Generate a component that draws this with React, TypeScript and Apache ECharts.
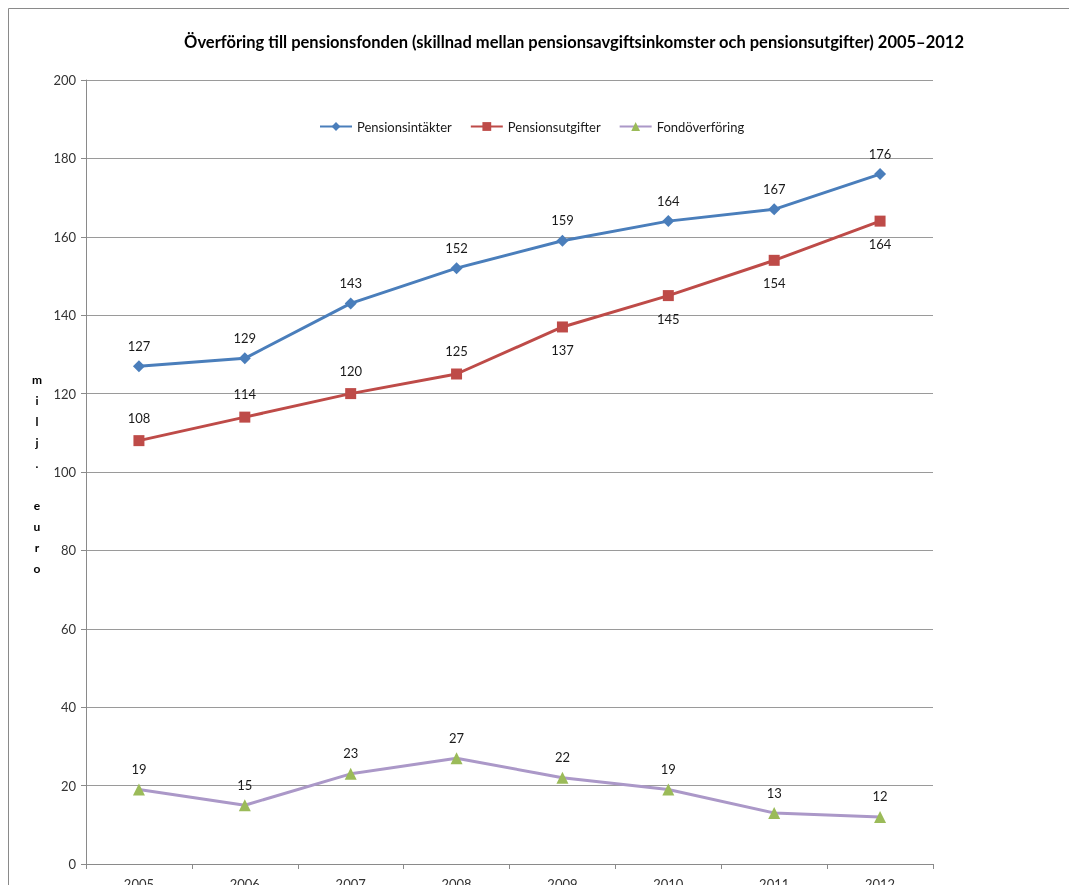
import React, { useEffect, useRef } from "react";
import * as echarts from "echarts";

const years = ["2005", "2006", "2007", "2008", "2009", "2010", "2011", "2012"];
const pensionsintakter = [127, 129, 143, 152, 159, 164, 167, 176];
const pensionsutgifter = [108, 114, 120, 125, 137, 145, 154, 164];
const fondoverforing = [19, 15, 23, 27, 22, 19, 13, 12];
const utgifterLabelBelowFrom = 4;

const titleText =
  "Överföring till pensionsfonden (skillnad mellan pensionsavgiftsinkomster och pensionsutgifter) 2005–2012";
const yName = "milj. euro";

const FONT = "Lato, 'Noto Sans', sans-serif";

export default function App() {
  const ref = useRef<HTMLDivElement>(null);
  useEffect(() => {
    if (!ref.current) return;
    const chart = echarts.init(ref.current, undefined, { renderer: "svg" });
    const labelStyle = { color: "#1a1a1a", fontSize: 13, fontFamily: FONT };
    chart.setOption({
      animation: false,
      textStyle: { fontFamily: FONT },
      legend: {
        top: 107,
        left: 306,
        itemWidth: 32,
        itemHeight: 11,
        itemGap: 18,
        textStyle: { fontSize: 13, color: "#1a1a1a", fontFamily: FONT },
        data: ["Pensionsintäkter", "Pensionsutgifter", "Fondöverföring"],
      },
      graphic: [
        { type: "line", shape: { x1: 0.5, y1: 0.5, x2: 0.5, y2: 900 }, style: { stroke: "#8a8a8a", lineWidth: 1 } },
        { type: "line", shape: { x1: 0.5, y1: 0.5, x2: 1100, y2: 0.5 }, style: { stroke: "#8a8a8a", lineWidth: 1 } },
        {
          type: "text",
          x: 566,
          y: 34,
          style: {
            text: titleText,
            fontSize: 16.5,
            fontWeight: "bold",
            fontFamily: FONT,
            fill: "#000",
            align: "center",
            verticalAlign: "middle",
          },
        },
        {
          type: "text",
          x: 29,
          y: 361,
          style: {
            text: yName.split("").join("\n"),
            fontSize: 12,
            fontWeight: "bold",
            fontFamily: FONT,
            lineHeight: 21,
            fill: "#000",
            align: "center",
          },
        },
      ],
      grid: {
        left: 78,
        top: 72,
        right: 136,
        bottom: 21,
        containLabel: false,
        outerBoundsMode: "none",
      },
      xAxis: {
        type: "category",
        data: years,
        boundaryGap: true,
        axisLine: { lineStyle: { color: "#8a8a8a", width: 1 } },
        axisTick: { show: true, length: 5, lineStyle: { color: "#8a8a8a" } },
        axisLabel: { fontSize: 13, color: "#333", margin: 13, fontFamily: FONT },
      },
      yAxis: {
        type: "value",
        min: 0,
        max: 200,
        interval: 20,
        axisLine: { show: true, lineStyle: { color: "#8a8a8a", width: 1 } },
        axisTick: { show: true, length: 5, lineStyle: { color: "#8a8a8a" } },
        axisLabel: { fontSize: 13, color: "#333", margin: 10, fontFamily: FONT },
        splitLine: { lineStyle: { color: "#9a9a9a", width: 1 } },
      },
      series: [
        {
          name: "Pensionsintäkter",
          type: "line",
          data: pensionsintakter,
          symbol: "diamond",
          symbolSize: 12,
          lineStyle: { color: "#4A7EBB", width: 3 },
          itemStyle: { color: "#4A7EBB" },
          label: { show: true, position: "top", distance: 8, ...labelStyle },
        },
        {
          name: "Pensionsutgifter",
          type: "line",
          data: pensionsutgifter.map((v, i) => ({
            value: v,
            label: {
              position: i >= utgifterLabelBelowFrom ? "bottom" : "top",
              distance: 11,
            },
          })),
          symbol: "rect",
          symbolSize: 11,
          lineStyle: { color: "#BE4B48", width: 3 },
          itemStyle: { color: "#BE4B48" },
          label: { show: true, ...labelStyle },
        },
        {
          name: "Fondöverföring",
          type: "line",
          data: fondoverforing,
          symbol: "triangle",
          symbolSize: 12,
          lineStyle: { color: "#AB98C8", width: 3 },
          itemStyle: { color: "#9BBB59" },
          label: { show: true, position: "top", distance: 8, ...labelStyle },
        },
      ],
    });
    return () => chart.dispose();
  }, []);
  return (
    <div
      ref={ref}
      style={{ position: "fixed", left: 8, top: 8, width: 1061, height: 877 }}
    />
  );
}
